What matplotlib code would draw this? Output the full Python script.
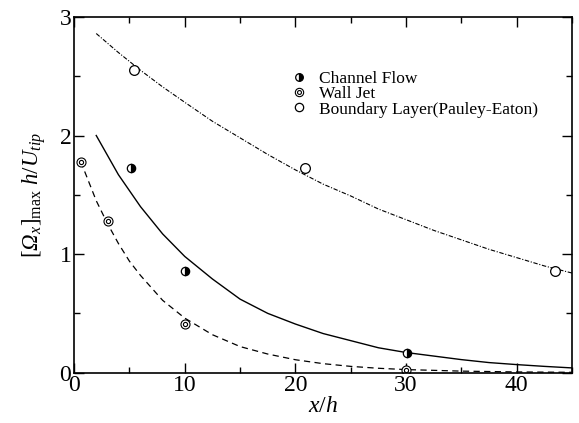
import numpy as np
import matplotlib
matplotlib.use("Agg")
from matplotlib import pyplot as plt
from matplotlib.ticker import MultipleLocator
from matplotlib.lines import Line2D

plt.rcParams["font.family"] = ["Liberation Serif", "DejaVu Serif"]
plt.rcParams["mathtext.fontset"] = "custom"
plt.rcParams["mathtext.rm"] = "Liberation Serif"
plt.rcParams["mathtext.it"] = "Liberation Serif:italic"
# bf slot used for the italic capital Omega (mathtext forces Greek capitals upright in 'it')
plt.rcParams["mathtext.bf"] = "Liberation Serif:italic"

# measured points
channel_x = [5.1, 10.05, 30.1]
channel_y = [1.73, 0.86, 0.17]
walljet_x = [0.6, 3.05, 10.0, 30.0]
walljet_y = [1.78, 1.28, 0.41, 0.02]
boundary_x = [5.4, 20.9, 43.45]
boundary_y = [2.55, 1.73, 0.86]

# fitted curves
bl_fit_x = [2, 4, 6, 8, 10, 12.5, 15, 17.5, 20, 22.5, 25, 27.5, 30, 32.5, 35, 37.5, 40, 42.5, 45]
bl_fit_y = [2.86, 2.70, 2.55, 2.41, 2.28, 2.12, 1.98, 1.84, 1.71, 1.59, 1.49, 1.38, 1.29, 1.20,
            1.12, 1.04, 0.97, 0.90, 0.84]
ch_fit_x = [2, 4, 6, 8, 10, 12.5, 15, 17.5, 20, 22.5, 25, 27.5, 30, 32.5, 35, 37.5, 40, 42.5, 45]
ch_fit_y = [2.00, 1.67, 1.40, 1.17, 0.98, 0.79, 0.62, 0.50, 0.41, 0.33, 0.27, 0.21, 0.17, 0.14,
            0.11, 0.085, 0.068, 0.053, 0.04]
wj_fit_x = [0.6, 2, 3, 4, 5, 6, 8, 10, 12.5, 15, 17.5, 20, 22.5, 25, 27.5, 30, 35, 40, 45]
wj_fit_y = [1.78, 1.45, 1.26, 1.09, 0.94, 0.82, 0.61, 0.46, 0.32, 0.22, 0.157, 0.109, 0.076,
            0.053, 0.037, 0.026, 0.013, 0.006, 0.003]

labels = ["Channel Flow", "Wall Jet", "Boundary Layer(Pauley-Eaton)"]

fig = plt.figure(figsize=(5.79, 4.23), dpi=100)
ax = fig.add_axes([0.128, 0.119, 0.860, 0.841])

ax.plot(bl_fit_x, bl_fit_y, color="black", lw=0.8, dashes=(4, 1.5, 1, 1.5))
ax.plot(ch_fit_x, ch_fit_y, color="black", lw=1.0)
ax.plot(wj_fit_x, wj_fit_y, color="black", lw=0.9, dashes=(5, 3.5))

ax.plot(channel_x, channel_y, "o", ms=6, fillstyle="right", mfc="black", mfcalt="white",
        mec="black", mew=0.9, ls="none")
ax.plot(walljet_x, walljet_y, "o", ms=6.5, mfc="white", mec="black", mew=0.8, ls="none")
ax.plot(walljet_x, walljet_y, "o", ms=3, mfc="white", mec="black", mew=0.8, ls="none")
ax.plot(boundary_x, boundary_y, "o", ms=7, mfc="white", mec="black", mew=0.9, ls="none")

# legend handles, wall jet marker is a double ring
h_ch = Line2D([], [], marker="o", ms=5.5, fillstyle="right", mfc="black", mfcalt="white",
              mec="black", mew=0.9, ls="none")
h_wj_o = Line2D([], [], marker="o", ms=6, mfc="white", mec="black", mew=0.8, ls="none")
h_wj_i = Line2D([], [], marker="o", ms=2.8, mfc="white", mec="black", mew=0.8, ls="none")
h_bl = Line2D([], [], marker="o", ms=6, mfc="white", mec="black", mew=0.9, ls="none")
ax.legend([h_ch, (h_wj_o, h_wj_i), h_bl], labels,
          loc="upper left", bbox_to_anchor=(0.416, 0.872), frameon=False,
          fontsize=12.5, handlelength=1.03, handletextpad=0.65, labelspacing=-0.06,
          borderpad=0)

ax.set_xlim(0, 45)
ax.set_ylim(0, 3)
ax.xaxis.set_major_locator(MultipleLocator(10))
ax.xaxis.set_minor_locator(MultipleLocator(5))
ax.yaxis.set_major_locator(MultipleLocator(1))
ax.yaxis.set_minor_locator(MultipleLocator(0.5))
ax.tick_params(which="both", direction="in", top=True, right=True, width=1.0, labelsize=17)
ax.tick_params(which="major", length=7, pad=2)
ax.tick_params(which="minor", length=4.5)
for s in ax.spines.values():
    s.set_linewidth(1.2)

ax.set_xlabel(r"$x/h$", fontsize=17, labelpad=0)
ax.set_ylabel(r"$[\mathbf{\Omega}_x]_{\rm max}\ h/U_{tip}$", fontsize=16.5, labelpad=8)

fig.savefig("out.png", dpi=100)
